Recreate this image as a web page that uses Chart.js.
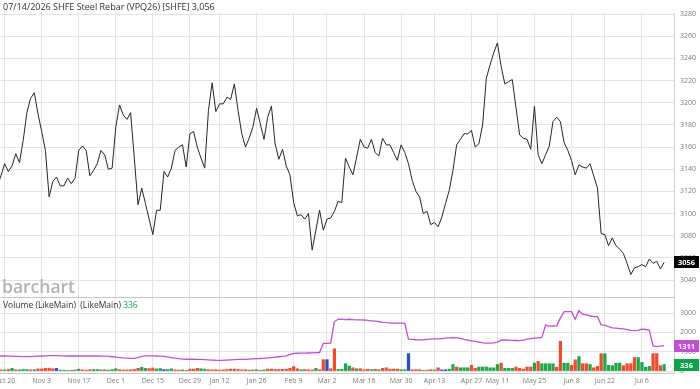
<!DOCTYPE html>
<html><head><meta charset="utf-8">
<script src="https://cdn.jsdelivr.net/npm/chart.js@4"></script>
<style>html,body{margin:0;padding:0;background:#fff;overflow:hidden}canvas{display:block}</style>
</head><body>
<canvas id="c" width="700" height="389"></canvas>
<script>
const dates = [
"Oct 16","Oct 17","Oct 20","Oct 21","Oct 22","Oct 23","Oct 24","Oct 27","Oct 28","Oct 29","Oct 30","Oct 31",
"Nov 3","Nov 4","Nov 5","Nov 6","Nov 7","Nov 10","Nov 11","Nov 12","Nov 13","Nov 14","Nov 17","Nov 18","Nov 19","Nov 20","Nov 21","Nov 24","Nov 25","Nov 26","Nov 27","Nov 28",
"Dec 1","Dec 2","Dec 3","Dec 4","Dec 5","Dec 8","Dec 9","Dec 10","Dec 11","Dec 12","Dec 15","Dec 16","Dec 17","Dec 18","Dec 19","Dec 22","Dec 23","Dec 24","Dec 25","Dec 26","Dec 29","Dec 30","Dec 31",
"Jan 5","Jan 6","Jan 7","Jan 8","Jan 9","Jan 12","Jan 13","Jan 14","Jan 15","Jan 16","Jan 19","Jan 20","Jan 21","Jan 22","Jan 23","Jan 26","Jan 27","Jan 28","Jan 29","Jan 30",
"Feb 2","Feb 3","Feb 4","Feb 5","Feb 6","Feb 9","Feb 10","Feb 11","Feb 12","Feb 13","Feb 24","Feb 25","Feb 26","Feb 27",
"Mar 2","Mar 3","Mar 4","Mar 5","Mar 6","Mar 9","Mar 10","Mar 11","Mar 12","Mar 13","Mar 16","Mar 17","Mar 18","Mar 19","Mar 20","Mar 23","Mar 24","Mar 25","Mar 26","Mar 27","Mar 30","Mar 31",
"Apr 1","Apr 2","Apr 3","Apr 7","Apr 8","Apr 9","Apr 10","Apr 13","Apr 14","Apr 15","Apr 16","Apr 17","Apr 20","Apr 21","Apr 22","Apr 23","Apr 24","Apr 27","Apr 28","Apr 29","Apr 30",
"May 6","May 7","May 8","May 11","May 12","May 13","May 14","May 15","May 18","May 19","May 20","May 21","May 22","May 25","May 26","May 27","May 28","May 29",
"Jun 1","Jun 2","Jun 3","Jun 4","Jun 5","Jun 8","Jun 9","Jun 10","Jun 11","Jun 12","Jun 15","Jun 16","Jun 17","Jun 18","Jun 22","Jun 23","Jun 24","Jun 25","Jun 26","Jun 29","Jun 30",
"Jul 1","Jul 2","Jul 3","Jul 6","Jul 7","Jul 8","Jul 9","Jul 10","Jul 13","Jul 14"
];
const tickDates = ["Oct 20","Nov 3","Nov 17","Dec 1","Dec 15","Dec 29","Jan 12","Jan 26","Feb 9","Mar 2","Mar 16","Mar 30","Apr 13","Apr 27","May 11","May 25","Jun 8","Jun 22","Jul 6"];
const prices = [
3125,3134,3145,3138,3143,3154,3146,3166,3191,3204,
3209,3190,3174,3157,3115,3129,3133,3125,3125,3132,
3127,3132,3157,3161,3157,3134,3139,3145,3157,3153,
3140,3141,3178,3198,3189,3185,3191,3150,3108,3123,
3109,3095,3081,3103,3103,3138,3133,3141,3157,3160,
3162,3142,3172,3174,3160,3150,3141,3193,3218,3192,
3199,3199,3205,3203,3217,3193,3172,3160,3168,3178,
3195,3181,3167,3187,3197,3163,3149,3158,3143,3135,
3110,3098,3099,3095,3100,3067,3085,3103,3085,3095,
3096,3102,3111,3110,3150,3142,3135,3151,3167,3160,
3159,3167,3155,3152,3168,3162,3162,3155,3148,3162,
3155,3145,3130,3120,3115,3100,3102,3090,3092,3088,
3097,3109,3121,3139,3162,3167,3172,3172,3175,3160,
3163,3180,3222,3234,3245,3254,3233,3217,3219,3221,
3196,3171,3168,3167,3158,3197,3153,3145,3153,3161,
3183,3187,3183,3164,3157,3148,3135,3144,3142,3141,
3145,3134,3123,3082,3081,3071,3078,3071,3068,3064,
3055,3045,3051,3052,3054,3052,3059,3055,3057,3050,
3056
];
const volumes = [
70,60,60,80,140,70,60,80,80,60,
70,110,110,140,150,120,140,50,40,30,
40,60,100,60,50,70,80,80,60,70,
50,70,120,70,60,60,70,80,140,200,
140,130,160,110,130,80,80,110,60,50,
60,40,100,100,140,120,100,70,60,70,
50,60,80,100,100,80,60,70,50,60,
70,40,60,100,100,80,80,90,100,140,
230,120,70,80,60,60,140,70,590,590,
120,1150,90,90,380,260,170,120,120,70,
90,70,90,70,140,170,100,100,100,70,
70,900,70,70,70,35,50,70,60,170,
60,70,100,340,210,170,170,170,300,140,
210,210,210,170,170,340,410,140,140,140,
210,140,100,210,210,410,500,380,380,380,
380,200,1540,410,410,300,580,750,380,380,
340,170,240,900,900,300,280,410,410,280,
380,380,700,700,450,200,240,900,900,280,
336
];
// 1 = up day, -1 = down day, 0 = neutral
const volDir = [
1,-1,1,-1,1,-1,1,1,1,-1,
1,-1,-1,-1,-1,-1,0,1,1,1,
1,-1,1,-1,-1,-1,1,1,1,-1,
1,1,1,-1,-1,-1,-1,-1,-1,1,
1,-1,-1,1,1,0,1,1,-1,-1,
1,-1,-1,-1,-1,1,1,-1,-1,-1,
-1,-1,-1,-1,-1,-1,-1,-1,1,-1,
1,-1,1,-1,-1,-1,-1,-1,-1,-1,
-1,-1,1,-1,-1,-1,1,-1,-1,0,
-1,-1,1,1,1,1,-1,1,-1,-1,
-1,1,-1,1,-1,-1,-1,-1,-1,1,
1,0,-1,-1,-1,1,-1,-1,1,-1,
0,0,1,1,-1,1,1,1,-1,-1,
1,1,1,1,1,1,-1,1,1,1,
-1,-1,-1,-1,-1,1,-1,1,1,1,
1,-1,-1,1,1,-1,-1,1,-1,-1,
1,-1,-1,-1,1,1,1,1,1,-1,
-1,-1,-1,1,1,1,1,-1,-1,-1,
1
];
const openInterest = [
780,780,780,775,770,760,755,750,750,750,
760,770,780,790,800,800,800,790,785,780,
780,780,780,780,780,780,780,780,775,770,
760,740,720,700,680,670,660,660,700,760,
790,790,785,780,775,760,730,700,670,640,
620,610,610,610,605,600,590,580,570,560,
557,560,570,580,590,600,605,608,620,630,
640,650,660,680,700,720,740,760,781,850,
918,920,925,930,935,940,953,960,1430,1436,
1440,2560,2676,2680,2660,2680,2660,2650,2650,2640,
2620,2600,2580,2560,2520,2500,2490,2480,2480,2480,
2470,1650,1640,1620,1610,1620,1640,1650,1660,1660,
1680,1700,1720,1730,1720,1690,1640,1600,1560,1530,
1500,1460,1440,1440,1460,1500,1600,1610,1600,1590,
1580,1570,1600,1650,1680,1700,1720,1740,2380,2320,
2330,2340,2750,3070,3070,3070,2680,3120,2940,2900,
2860,2820,2810,2390,2380,2300,2230,2220,2200,2180,
2140,2100,2090,2100,2170,2150,2120,1300,1264,1290,
1311
];
const priceTicks = [3040,3060,3080,3100,3120,3140,3160,3180,3200,3220,3240,3260,3280];
const volTicks = [0,1000,2000,3000];
const titleText = "07/14/2026 SHFE Steel Rebar (VPQ26) [SHFE] 3,056";
const volLabel = "Volume (LikeMain)  (LikeMain) ";

const GREEN = '#1fa64a', RED = '#f04b2d', BLUE = '#2a4fc2', PURPLE = '#c24fd3';
const GRID = '#e4e4e4', TICK = '#7c7c7c';
const last = prices.length - 1;

function fixY(s){ s.width = 26; s.paddingTop = 0; s.paddingBottom = 0; }

const overlay = {
  id: 'overlay',
  afterDraw(chart) {
    const {ctx, chartArea: a, scales} = chart;
    ctx.save();
    ctx.strokeStyle = '#c6c6c6'; ctx.lineWidth = 1;
    const sepY = Math.round(scales.yP.bottom) + 0.5;
    ctx.beginPath(); ctx.moveTo(0, sepY); ctx.lineTo(a.right, sepY); ctx.stroke();
    ctx.textAlign = 'left'; ctx.textBaseline = 'middle';
    ctx.font = '9px "Open Sans"'; ctx.fillStyle = '#333';
    ctx.fillText(titleText, 3, 7.5);
    ctx.font = '600 17.5px "Open Sans"'; ctx.fillStyle = '#b3b3b3'; ctx.textBaseline = 'alphabetic';
    ctx.fillText('barchart', 2, 293);
    ctx.textBaseline = 'middle';
    ctx.font = '8.5px "Open Sans"'; ctx.fillStyle = '#333';
    ctx.fillText(volLabel, 3, 305.5);
    const w = ctx.measureText(volLabel).width;
    ctx.fillStyle = GREEN; ctx.fillText(String(volumes[last]), 3 + w, 305.5);
    function box(y, bg, txt) {
      ctx.fillStyle = bg; ctx.fillRect(a.right, Math.round(y) - 6, 25, 12);
      ctx.fillStyle = '#fff'; ctx.font = 'bold 7.5px "Open Sans"'; ctx.textAlign = 'center';
      ctx.fillText(txt, a.right + 12.5, Math.round(y) + 0.5);
      ctx.textAlign = 'left';
    }
    box(scales.yP.getPixelForValue(prices[last]), '#000', String(prices[last]));
    box(scales.yV.getPixelForValue(openInterest[last]), PURPLE, String(openInterest[last]));
    box(scales.yV.getPixelForValue(volumes[last]), '#0ba24a', String(volumes[last]));
    ctx.restore();
  }
};

function draw() {
  new Chart(document.getElementById('c'), {
    data: {
      datasets: [
        { type: 'line', label: 'Price', yAxisID: 'yP', order: 1,
          data: prices.map((v, i) => ({x: i, y: v})),
          borderColor: '#262626', borderWidth: 1, pointRadius: 0, tension: 0 },
        { type: 'line', label: 'Open Interest', yAxisID: 'yV', order: 2,
          data: openInterest.map((v, i) => ({x: i, y: v})),
          borderColor: PURPLE, borderWidth: 1.3, pointRadius: 0, tension: 0 },
        { type: 'bar', label: 'Volume', yAxisID: 'yV', order: 3,
          data: volumes.map((v, i) => ({x: i, y: v})),
          backgroundColor: volDir.map(d => d > 0 ? GREEN : (d < 0 ? RED : BLUE)),
          barThickness: 2.6, borderWidth: 0 }
      ]
    },
    options: {
      responsive: false, animation: false, devicePixelRatio: 1,
      layout: { padding: { top: 13, left: 0, right: 0, bottom: 0 } },
      plugins: { legend: { display: false }, tooltip: { enabled: false } },
      scales: {
        x: {
          type: 'linear', min: 0.745, max: 182.66, position: 'bottom', offset: false,
          afterBuildTicks: s => { s.ticks = tickDates.map(d => ({ value: dates.indexOf(d) })); },
          afterFit: s => { s.height = 16; s.paddingLeft = 0; s.paddingRight = 0; },
          grid: { color: GRID, drawTicks: false, offset: false },
          border: { color: '#c8c8c8' },
          ticks: { color: TICK, font: { family: 'Open Sans', size: 7 }, padding: 4,
                   autoSkip: false, maxRotation: 0, callback: v => dates[v] }
        },
        yP: {
          type: 'linear', position: 'right', stack: 'panes', stackWeight: 284,
          min: 3024.7, max: 3281,
          afterBuildTicks: s => { s.ticks = priceTicks.map(v => ({ value: v })); },
          afterFit: fixY,
          grid: { color: GRID, drawTicks: false },
          border: { color: '#d0d0d0' },
          ticks: { color: TICK, font: { family: 'Open Sans', size: 7 }, padding: 6, callback: v => String(v) }
        },
        yV: {
          type: 'linear', position: 'right', stack: 'panes', stackWeight: 76,
          min: -100, max: 3830,
          afterBuildTicks: s => { s.ticks = volTicks.map(v => ({ value: v })); },
          afterFit: fixY,
          grid: { color: GRID, drawTicks: false },
          border: { color: '#d0d0d0' },
          ticks: { color: TICK, font: { family: 'Open Sans', size: 7 }, padding: 6, callback: v => String(v) }
        }
      }
    },
    plugins: [overlay]
  });
}
if (document.fonts && document.fonts.load) {
  Promise.all([document.fonts.load('9px "Open Sans"'), document.fonts.load('600 17px "Open Sans"'), document.fonts.load('bold 8px "Open Sans"')])
    .then(draw, draw);
} else { draw(); }
</script>
</body></html>
